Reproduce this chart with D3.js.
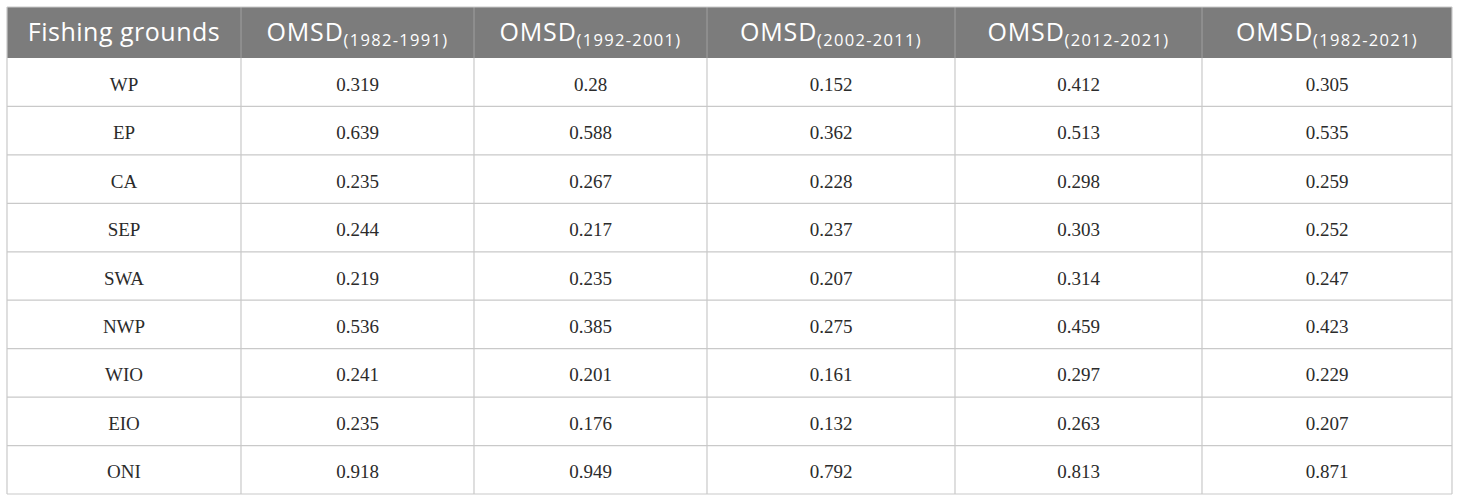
<!DOCTYPE html>
<html>
<head>
<meta charset="utf-8">
<script src="https://cdn.jsdelivr.net/npm/d3@7"></script>
<style>
  html, body { margin: 0; padding: 0; background: #fff; }
  svg { display: block; }
</style>
</head>
<body>
<svg id="chart" width="1460" height="502"></svg>
<script>
// table data
const grounds = ['WP', 'EP', 'CA', 'SEP', 'SWA', 'NWP', 'WIO', 'EIO', 'ONI'];
const periods = ['1982-1991', '1992-2001', '2002-2011', '2012-2021', '1982-2021'];
const omsd1982_1991 = ['0.319', '0.639', '0.235', '0.244', '0.219', '0.536', '0.241', '0.235', '0.918'];
const omsd1992_2001 = ['0.28', '0.588', '0.267', '0.217', '0.235', '0.385', '0.201', '0.176', '0.949'];
const omsd2002_2011 = ['0.152', '0.362', '0.228', '0.237', '0.207', '0.275', '0.161', '0.132', '0.792'];
const omsd2012_2021 = ['0.412', '0.513', '0.298', '0.303', '0.314', '0.459', '0.297', '0.263', '0.813'];
const omsd1982_2021 = ['0.305', '0.535', '0.259', '0.252', '0.247', '0.423', '0.229', '0.207', '0.871'];
const series = [omsd1982_1991, omsd1992_2001, omsd2002_2011, omsd2012_2021, omsd1982_2021];

const svg = d3.select('#chart');

// column edges (px) - columns are not all equal in the original
const colKeys = ['name'].concat(periods);
const colEdges = [7, 241, 474, 707, 955, 1202, 1452];
const xLeft = d3.scaleOrdinal().domain(colKeys).range(colEdges.slice(0, -1));
const xRight = d3.scaleOrdinal().domain(colKeys).range(colEdges.slice(1));
const xMid = k => (xLeft(k) + xRight(k)) / 2;

const headTop = 7, headBottom = 58, tableBottom = 494;
const y = d3.scaleBand().domain(grounds).range([headBottom, tableBottom]);

const lineColor = '#c9c9c9';

// header band
svg.append('rect')
  .attr('x', colEdges[0]).attr('y', headTop)
  .attr('width', colEdges[colEdges.length - 1] - colEdges[0])
  .attr('height', headBottom - headTop)
  .attr('fill', '#7c7c7c');

// header texts
const head = svg.append('g').attr('font-family', '"Open Sans", sans-serif').attr('fill', '#fff');
head.append('text')
  .attr('x', xMid('name'))
  .attr('y', 41)
  .attr('text-anchor', 'middle')
  .attr('font-size', 25)
  .attr('letter-spacing', 0.5)
  .text('Fishing grounds');

const ht = head.selectAll('text.period')
  .data(periods)
  .enter()
  .append('text')
  .attr('class', 'period')
  .attr('x', d => xMid(d))
  .attr('y', 41)
  .attr('text-anchor', 'middle')
  .attr('font-size', 25);
ht.append('tspan').attr('letter-spacing', 0.8).text('OMSD');
ht.append('tspan').attr('font-size', 16.5).attr('letter-spacing', 1.3).attr('dy', 5).text(d => '(' + d + ')');

// body rows
const body = svg.append('g').attr('font-family', '"Liberation Serif", "Times New Roman", serif')
  .attr('font-size', 19).attr('fill', '#2b2b2b');

body.selectAll('text.name')
  .data(grounds)
  .enter()
  .append('text')
  .attr('class', 'name')
  .attr('x', xMid('name'))
  .attr('y', d => y(d) + y.bandwidth() / 2 + 8.5)
  .attr('text-anchor', 'middle')
  .text(d => d);

periods.forEach((p, i) => {
  body.selectAll('text.v' + i)
    .data(series[i])
    .enter()
    .append('text')
    .attr('class', 'v' + i)
    .attr('x', xMid(p))
    .attr('y', (d, j) => y(grounds[j]) + y.bandwidth() / 2 + 8.5)
    .attr('text-anchor', 'middle')
    .text(d => d);
});

// grid lines
const grid = svg.append('g').attr('stroke', lineColor).attr('stroke-width', 1.2).attr('fill', 'none');
grid.selectAll('line.h')
  .data(grounds)
  .enter()
  .append('line')
  .attr('x1', colEdges[0]).attr('x2', colEdges[colEdges.length - 1])
  .attr('y1', d => y(d) + y.bandwidth())
  .attr('y2', d => y(d) + y.bandwidth());

grid.selectAll('line.v')
  .data(colEdges)
  .enter()
  .append('line')
  .attr('x1', d => d).attr('x2', d => d)
  .attr('y1', (d, i) => (i === 0 || i === colEdges.length - 1) ? headTop : headBottom)
  .attr('y2', tableBottom);

// separators inside the header are a bit lighter than the band
grid.selectAll('line.hv')
  .data(colEdges.slice(1, -1))
  .enter()
  .append('line')
  .attr('x1', d => d).attr('x2', d => d)
  .attr('y1', headTop).attr('y2', headBottom)
  .attr('stroke', '#9a9a9a');

grid.append('line')
  .attr('x1', colEdges[0]).attr('x2', colEdges[colEdges.length - 1])
  .attr('y1', headTop).attr('y2', headTop);
</script>
</body>
</html>
